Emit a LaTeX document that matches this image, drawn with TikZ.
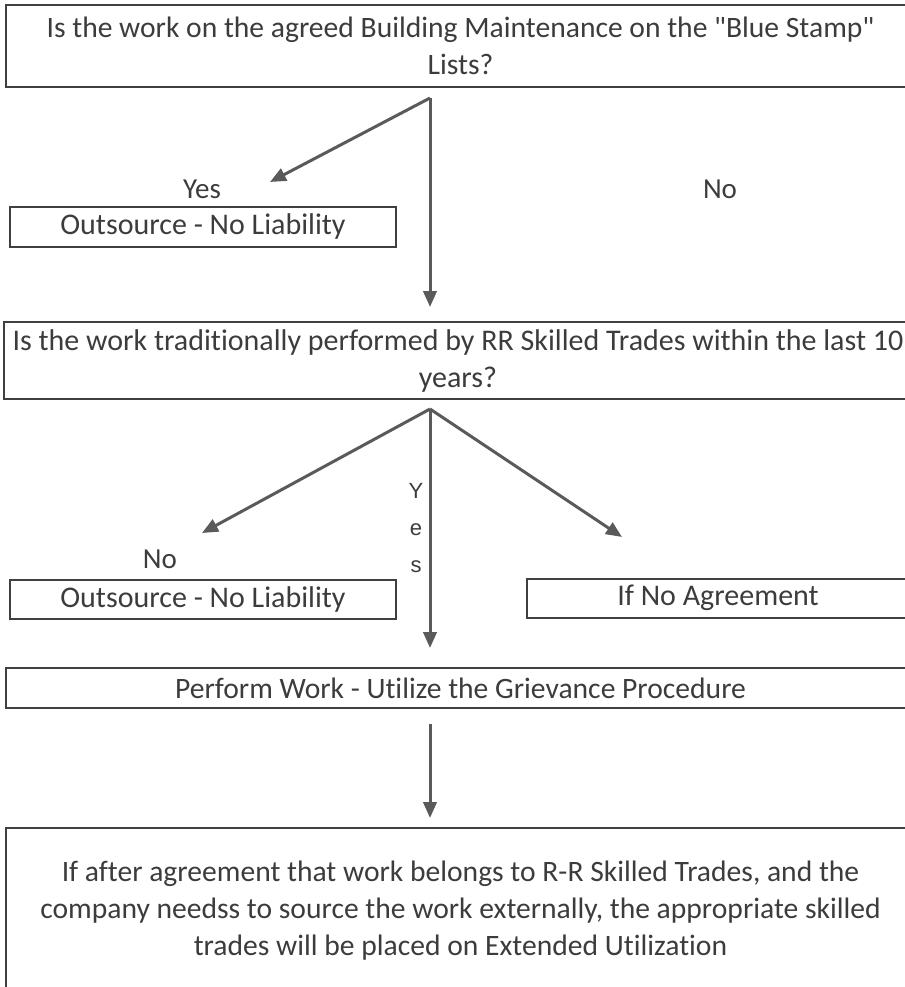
\documentclass[tikz,border=0pt]{standalone}
\usepackage{fontspec}
\setmainfont{Carlito}[Ligatures={TeX,NoCommon}]
\newfontfamily\yesfont{Liberation Sans}
\usetikzlibrary{arrows.meta}
\definecolor{boxgray}{HTML}{404040}
\definecolor{arrgray}{HTML}{5A5A5A}
\definecolor{txtgray}{HTML}{3C3C3C}

\begin{document}
\begin{tikzpicture}[
    x=0.75pt, y=-0.75pt,
    >={Triangle[length=12pt,width=10pt]},
    every node/.style={text=txtgray, font=\fontsize{22.5}{27.75}\selectfont},
    box/.style={draw=boxgray, line width=1.5pt, inner sep=0pt, align=center},
    narrow/.style={font=\fontsize{22.2}{27.75}\selectfont},
    answer/.style={font=\fontsize{21.75}{26}\selectfont},
    arr/.style={->, draw=arrgray, line width=2.25pt}
  ]
    \clip (0,0) rectangle (905,987);

    % questions and outcomes
    \node[box, narrow, minimum width=681.75pt, minimum height=61.5pt] (bluestamp) at (460.5,46)
      {Is the work on the agreed Building Maintenance on the \textquotedbl Blue Stamp\textquotedbl\\Lists?};
    \node[box, minimum width=289.5pt, minimum height=30pt] (outA) at (203,227) {Outsource - No Liability};
    \node[box, minimum width=681.75pt, minimum height=57.75pt] (tenyears) at (458,360.5)
      {Is the work traditionally performed by RR Skilled Trades within the last 10\\years?};
    \node[box, minimum width=289.5pt, minimum height=29.25pt] (outB) at (203,599) {Outsource - No Liability};
    \node[box, minimum width=286.5pt, minimum height=29.25pt] (noagree) at (718,598) {If No Agreement};
    \node[box, narrow, minimum width=681.75pt, minimum height=30pt] (perform) at (460.5,688)
      {Perform Work - Utilize the Grievance Procedure};
    \node[box, narrow, minimum width=681.75pt, minimum height=124.5pt] (extended) at (460.5,911)
      {If after agreement that work belongs to R-R Skilled Trades, and the\\
       company needss to source the work externally, the appropriate skilled\\
       trades will be placed on Extended Utilization};

    % answers
    \node[answer] (yesA) at (202,189) {Yes};
    \node[answer] (noA) at (720,189) {No};
    \node[answer] (noB) at (160,559) {No};
    \node[align=center, font=\yesfont\fontsize{16.5}{27.75}\selectfont] (yesB) at (416,528) {Y\\e\\s};

    % branch points
    \coordinate (fork1) at (430,98);
    \coordinate (fork2) at (430,409);
    \coordinate (tipA) at (270,182);
    \coordinate (tipB) at (430,307);
    \coordinate (tipC) at (202,533);
    \coordinate (tipD) at (430,648);
    \coordinate (tipE) at (622,537);
    \coordinate (startF) at (430,724);
    \coordinate (tipF) at (430,818);

    \draw[arr] (fork1) -- (tipA);
    \draw[arr] (fork1) -- (tipB);
    \draw[arr] (fork2) -- (tipC);
    \draw[arr] (fork2) -- (tipD);
    \draw[arr] (fork2) -- (tipE);
    \draw[arr] (startF) -- (tipF);
\end{tikzpicture}
\end{document}
